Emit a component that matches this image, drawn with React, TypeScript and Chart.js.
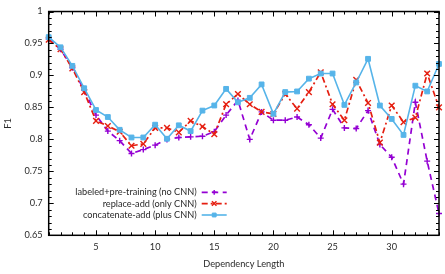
import React, { useEffect, useRef } from "react";
import { Chart, registerables } from "chart.js";
import { drawPoint } from "chart.js/helpers";

Chart.register(...registerables);

// Dependency length (x) and F1 per model variant
const lengths = [
  1, 2, 3, 4, 5, 6, 7, 8, 9, 10, 11, 12, 13, 14, 15, 16, 17,
  18, 19, 20, 21, 22, 23, 24, 25, 26, 27, 28, 29, 30, 31, 32, 33, 34,
];
const noCnn = [
  0.957, 0.941, 0.912, 0.877, 0.838, 0.813, 0.798, 0.778, 0.784, 0.791, 0.8, 0.803,
  0.804, 0.805, 0.812, 0.838, 0.861, 0.8, 0.843, 0.83, 0.83, 0.835, 0.823, 0.802,
  0.847, 0.818, 0.817, 0.845, 0.792, 0.772, 0.73, 0.858, 0.766, 0.684,
];
const onlyCnn = [
  0.956, 0.941, 0.911, 0.874, 0.829, 0.821, 0.812, 0.79, 0.793, 0.818, 0.818, 0.811,
  0.829, 0.82, 0.808, 0.855, 0.871, 0.855, 0.843, 0.84, 0.871, 0.848, 0.874, 0.905,
  0.855, 0.83, 0.893, 0.857, 0.795, 0.853, 0.827, 0.834, 0.903, 0.85,
];
const plusCnn = [
  0.96, 0.944, 0.915, 0.88, 0.846, 0.835, 0.815, 0.803, 0.803, 0.823, 0.801, 0.822,
  0.813, 0.845, 0.853, 0.879, 0.858, 0.865, 0.886, 0.84, 0.874, 0.875, 0.895, 0.903,
  0.903, 0.854, 0.889, 0.926, 0.853, 0.832, 0.807, 0.884, 0.875, 0.918,
];
const seriesNames = [
  "labeled+pre-training (no CNN)",
  "replace-add (only CNN)",
  "concatenate-add (plus CNN)",
];
const xTickValues = [5, 10, 15, 20, 25, 30];
const yTickValues = [0.65, 0.7, 0.75, 0.8, 0.85, 0.9, 0.95, 1];

const FONT = "Lato, sans-serif";
const FONT_SIZE = 9.2;
const TEXT = "#2a2a2a";

// Border box with inward major/minor ticks on all four sides
const framePlugin = {
  id: "frame",
  afterDatasetsDraw(chart: any) {
    const { ctx, chartArea: a, scales } = chart;
    const xs = scales.x;
    const ys = scales.y;
    ctx.save();
    ctx.strokeStyle = "#000";
    ctx.lineWidth = 1;
    ctx.setLineDash([]);
    const seg = (x1: number, y1: number, x2: number, y2: number) => {
      ctx.beginPath();
      ctx.moveTo(x1, y1);
      ctx.lineTo(x2, y2);
      ctx.stroke();
    };
    for (let v = Math.ceil(xs.min); v <= xs.max; v++) {
      const len = v % 5 === 0 ? 5 : 3;
      const px = Math.round(xs.getPixelForValue(v)) + 0.5;
      seg(px, a.bottom, px, a.bottom - len);
      seg(px, a.top, px, a.top + len);
    }
    const steps = Math.round((ys.max - ys.min) / 0.01);
    for (let i = 0; i <= steps; i++) {
      const v = ys.min + i * 0.01;
      const len = i % 5 === 0 ? 5 : 3;
      const py = Math.round(ys.getPixelForValue(v)) + 0.5;
      seg(a.left, py, a.left + len, py);
      seg(a.right, py, a.right - len, py);
    }
    ctx.lineWidth = 1.5;
    ctx.strokeRect(a.left, a.top, a.right - a.left, a.bottom - a.top);
    ctx.restore();
  },
};

// Key inside the plot: right-aligned names with a line sample to their right
const keyPlugin = {
  id: "key",
  afterDatasetsDraw(chart: any) {
    const { ctx, chartArea: a } = chart;
    const textRight = a.left + 148;
    const x0 = textRight + 5;
    const x1 = textRight + 30;
    const rowOffsets = [43, 31.7, 20.3];
    ctx.save();
    ctx.font = `${FONT_SIZE}px ${FONT}`;
    ctx.textAlign = "right";
    ctx.textBaseline = "middle";
    seriesNames.forEach((name, i) => {
      const ds = chart.data.datasets.find((d: any) => d.label === name);
      const y = a.bottom - rowOffsets[i];
      ctx.fillStyle = TEXT;
      ctx.fillText(name, textRight, y);
      ctx.strokeStyle = ds.borderColor;
      ctx.lineWidth = ds.borderWidth;
      ctx.setLineDash(ds.borderDash || []);
      ctx.beginPath();
      ctx.moveTo(x0, y);
      ctx.lineTo(x1, y);
      ctx.stroke();
      ctx.setLineDash([]);
      ctx.fillStyle = ds.pointBackgroundColor;
      ctx.strokeStyle = ds.pointBorderColor;
      ctx.lineWidth = ds.pointBorderWidth;
      drawPoint(
        ctx,
        { pointStyle: ds.pointStyle, rotation: 0, radius: ds.pointRadius * 0.8, borderWidth: ds.pointBorderWidth },
        (x0 + x1) / 2,
        y
      );
    });
    ctx.restore();
  },
};

export default function App() {
  const canvasRef = useRef<HTMLCanvasElement | null>(null);

  useEffect(() => {
    const canvas = canvasRef.current;
    if (!canvas) return;
    const purple = "#9400d3";
    const red = "#e51e10";
    const blue = "#56b4e9";
    const chart = new Chart(canvas, {
      type: "line",
      data: {
        labels: lengths,
        datasets: [
          {
            label: seriesNames[0],
            data: lengths.map((x, i) => ({ x, y: noCnn[i] })),
            borderColor: purple,
            backgroundColor: purple,
            borderWidth: 1.7,
            borderDash: [6, 4.5],
            pointStyle: "cross",
            pointRadius: 3,
            pointBorderWidth: 1.4,
            pointBorderColor: purple,
            pointBackgroundColor: purple,
            tension: 0,
            clip: false as any,
            order: 2,
          },
          {
            label: seriesNames[1],
            data: lengths.map((x, i) => ({ x, y: onlyCnn[i] })),
            borderColor: red,
            backgroundColor: red,
            borderWidth: 1.7,
            borderDash: [6, 3, 2, 3],
            pointStyle: "crossRot",
            pointRadius: 4,
            pointBorderWidth: 1.4,
            pointBorderColor: red,
            pointBackgroundColor: red,
            tension: 0,
            clip: false as any,
            order: 1,
          },
          {
            label: seriesNames[2],
            data: lengths.map((x, i) => ({ x, y: plusCnn[i] })),
            borderColor: blue,
            backgroundColor: blue,
            borderWidth: 1.6,
            pointStyle: "rect",
            pointRadius: 3.4,
            pointBorderWidth: 1,
            pointBorderColor: blue,
            pointBackgroundColor: blue,
            tension: 0,
            clip: false as any,
            order: 0,
          },
        ],
      },
      options: {
        responsive: false,
        animation: false,
        devicePixelRatio: 1,
        layout: { padding: { left: 3, top: 9, right: 6, bottom: 0 } },
        plugins: {
          legend: { display: false },
          tooltip: { enabled: false },
        },
        scales: {
          x: {
            type: "linear",
            min: 1,
            max: 34,
            afterBuildTicks: (s: any) => {
              s.ticks = xTickValues.map((value) => ({ value }));
            },
            afterFit: (s: any) => {
              s.height = 38.7;
            },
            grid: { display: false, drawTicks: false },
            border: { display: false },
            ticks: {
              autoSkip: false,
              maxRotation: 0,
              padding: 6,
              color: TEXT,
              font: { family: FONT, size: FONT_SIZE },
              callback: (v: any) => String(v),
            },
            title: {
              display: true,
              text: "Dependency Length",
              color: TEXT,
              font: { family: FONT, size: FONT_SIZE },
              padding: { top: 0, bottom: 4 },
            },
          },
          y: {
            type: "linear",
            min: 0.65,
            max: 1,
            afterBuildTicks: (s: any) => {
              s.ticks = yTickValues.map((value) => ({ value }));
            },
            afterFit: (s: any) => {
              s.width = 45.7;
            },
            grid: { display: false, drawTicks: false },
            border: { display: false },
            ticks: {
              autoSkip: false,
              padding: 6,
              color: TEXT,
              font: { family: FONT, size: FONT_SIZE },
              callback: (v: any) => String(v),
            },
            title: {
              display: true,
              text: "F1",
              color: TEXT,
              font: { family: FONT, size: FONT_SIZE },
              padding: { top: 0, bottom: 0 },
            },
          },
        },
      },
      plugins: [framePlugin, keyPlugin],
    });
    return () => chart.destroy();
  }, []);

  return (
    <div style={{ position: "absolute", left: 0, top: 0, width: 445, height: 274, background: "#fff" }}>
      <canvas ref={canvasRef} width={445} height={274} style={{ display: "block" }} />
    </div>
  );
}
